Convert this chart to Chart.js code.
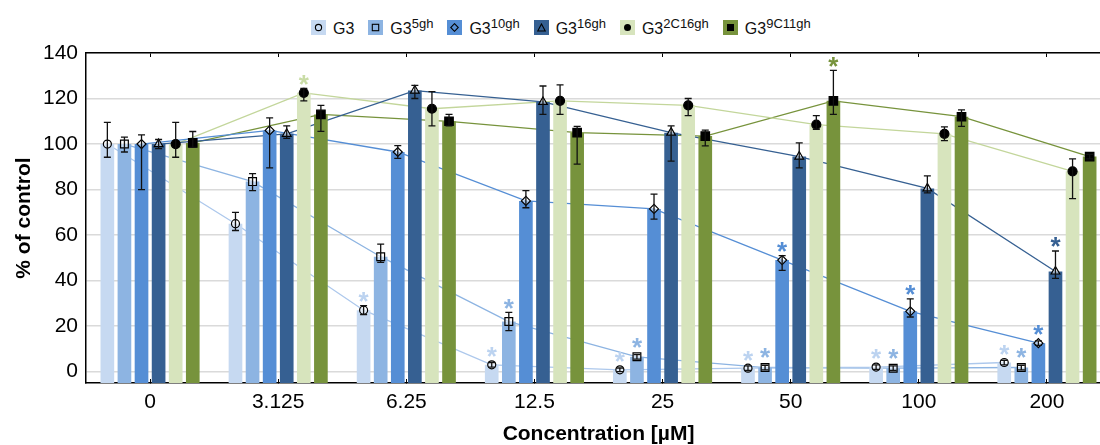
<!DOCTYPE html>
<html lang="en">
<head>
<meta charset="UTF-8">
<title>Viability vs concentration</title>
<script src="https://cdn.jsdelivr.net/npm/chart.js"></script>
<style>
  html, body { margin: 0; padding: 0; background: #fff; overflow: hidden; }
  body { width: 1100px; height: 445px; position: relative; font-family: "Liberation Sans", Arial, sans-serif; }
  canvas { position: absolute; left: 0; top: 0; }
  #legend { position: absolute; top: 20px; left: 311px; display: flex; align-items: center; height: 15px; }
  .item { display: flex; align-items: center; margin-right: 14px; }
  .key { width: 15px; height: 15px; display: flex; align-items: center; justify-content: center; }
  .key svg { display: block; }
  .lbl { margin-left: 7px; font-size: 16px; line-height: 15px; color: #111; position: relative; top: 1px; white-space: nowrap; }
  .lbl sup { font-size: 13px; vertical-align: 6px; line-height: 0; }
</style>
</head>
<body>
<div id="legend"></div>
<canvas id="viability" width="1120" height="445"></canvas>
<script>
const concentrations = ['0', '3.125', '6.25', '12.5', '25', '50', '100', '200'];
const yTicks = [0, 20, 40, 60, 80, 100, 120, 140];
const yMin = -5;

const seriesNames = ['', '5gh', '10gh', '16gh', '2C16gh', '9C11gh']; // superscripts after "G3"

// % of control
const g3     = [100, 65, 27, 3, 0.8, 1.5, 2, 4];
const g3_5   = [100, 83.5, 50.5, 22, 6.5, 1.8, 1.5, 1.8];
const g3_10  = [100, 106, 96.5, 75, 71.5, 49, 26.5, 12.5];
const g3_16  = [100, 104.5, 123.5, 118.5, 105, 94.5, 80.5, 44];
const g3_2c  = [100, 122.5, 115.5, 119, 117, 108.5, 104.5, 88];
const g3_9c  = [100.5, 113, 110, 105, 103.5, 119, 112, 94.5];

// upper / lower error
const g3Hi    = [9.5, 5, 2, 1, 0.8, 1, 1, 1];
const g3Lo    = [5.8, 3, 2, 1, 0.8, 1, 1, 1];
const g3_5Hi  = [3, 3.5, 5.5, 4, 1, 1, 1, 1];
const g3_5Lo  = [3.5, 4, 2.5, 4, 1, 1, 1, 1];
const g3_10Hi = [4, 5.5, 2.8, 4.5, 6.5, 2, 5.5, 1];
const g3_10Lo = [20, 16.5, 2.8, 3, 4.5, 4.5, 2.5, 1];
const g3_16Hi = [2, 3.5, 2.3, 7, 3, 6, 5.5, 9];
const g3_16Lo = [2, 2, 3.5, 5.5, 12.5, 5, 2, 3];
const g3_2cHi = [9.5, 2, 7.5, 7, 3, 4, 3, 5.5];
const g3_2cLo = [5.8, 3.5, 7.5, 6, 4.5, 2, 3, 12];
const g3_9cHi = [5, 4, 3, 2.8, 2.6, 13.4, 3, 1];
const g3_9cLo = [2, 7.4, 2, 13.8, 4.3, 6, 4.2, 1];

// significance marks (1 = asterisk)
const g3Sig    = [0, 0, 1, 1, 1, 1, 1, 1];
const g3_5Sig  = [0, 0, 0, 1, 1, 1, 1, 1];
const g3_10Sig = [0, 0, 0, 0, 0, 1, 1, 1];
const g3_16Sig = [0, 0, 0, 0, 0, 0, 0, 1];
const g3_2cSig = [0, 1, 0, 0, 0, 0, 0, 0];
const g3_9cSig = [0, 0, 0, 0, 0, 1, 0, 0];

const values = [g3, g3_5, g3_10, g3_16, g3_2c, g3_9c];
const errHi  = [g3Hi, g3_5Hi, g3_10Hi, g3_16Hi, g3_2cHi, g3_9cHi];
const errLo  = [g3Lo, g3_5Lo, g3_10Lo, g3_16Lo, g3_2cLo, g3_9cLo];
const sig    = [g3Sig, g3_5Sig, g3_10Sig, g3_16Sig, g3_2cSig, g3_9cSig];

// styling
const barColors  = ['#c6d9f1', '#8db4e2', '#558ed5', '#366092', '#d7e4bd', '#77933c'];
const lineColors = ['#adc8ec', '#8db4e2', '#558ed5', '#366092', '#c3d69b', '#77933c'];
const starColors = ['#bcd3f0', '#8db4e2', '#558ed5', '#366092', '#c9dca6', '#77933c'];
const markers = [
  { style: 'circle',   r: 4,   fill: 'rgba(255,255,255,0.5)' },
  { style: 'rect',     r: 5.5, fill: 'rgba(255,255,255,0.5)' },
  { style: 'rectRot',  r: 4.5, fill: 'rgba(255,255,255,0.5)' },
  { style: 'triangle', r: 5,   fill: 'rgba(255,255,255,0.5)' },
  { style: 'circle',   r: 4.5, fill: '#000' },
  { style: 'rect',     r: 6,   fill: '#000' }
];
const legendShapes = [
  '<circle cx="4.5" cy="4.5" r="3.1" fill="none" stroke="#000" stroke-width="1.1"/>',
  '<rect x="1.3" y="1.3" width="6.4" height="6.4" fill="none" stroke="#000" stroke-width="1.1"/>',
  '<polygon points="4.5,0.7 8.3,4.5 4.5,8.3 0.7,4.5" fill="none" stroke="#000" stroke-width="1.1"/>',
  '<polygon points="4.5,1 8.3,8 0.7,8" fill="none" stroke="#000" stroke-width="1.1"/>',
  '<circle cx="4.5" cy="4.5" r="3.5" fill="#000"/>',
  '<rect x="1" y="1" width="7" height="7" fill="#000"/>'
];

const FONT = '"Liberation Sans", Arial, sans-serif';
const STAR_SIZE = 26;
const groupWidth = 0.8;   // share of a category used by the group of bars
const barFill = 0.8;      // share of a bar slot that is painted
// centre of bar k inside its category, in category units
const slot = k => -groupWidth / 2 + (k + 0.5) * groupWidth / values.length;

// legend
const legend = document.getElementById('legend');
seriesNames.forEach((sup, k) => {
  const item = document.createElement('div');
  item.className = 'item';
  item.innerHTML =
    '<span class="key" style="background:' + barColors[k] + '"><svg width="9" height="9" viewBox="0 0 9 9">' +
    legendShapes[k] + '</svg></span><span class="lbl">G3' + (sup ? '<sup>' + sup + '</sup>' : '') + '</span>';
  legend.appendChild(item);
});

// every mark sits on the hidden linear axis "xl" (category i spans i-0.5 .. i+0.5)
const datasets = [];
values.forEach((vals, k) => {
  const pts = vals.map((v, i) => ({ x: i + slot(k), y: v }));
  datasets.push({
    type: 'bar', label: 'G3' + seriesNames[k], data: pts,
    backgroundColor: barColors[k], borderWidth: 0, base: yMin,
    grouped: false, categoryPercentage: 1, barPercentage: barFill,
    xAxisID: 'xl', yAxisID: 'y', order: 2
  });
  // connecting line, kept behind the bars
  datasets.push({
    type: 'line', data: pts, borderColor: lineColors[k], borderWidth: 1.3,
    pointRadius: 0, tension: 0, fill: false, xAxisID: 'xl', yAxisID: 'y', order: 3
  });
  // markers on top of the bars
  datasets.push({
    type: 'line', data: pts, showLine: false,
    pointStyle: markers[k].style, pointRadius: markers[k].r,
    pointBackgroundColor: markers[k].fill, pointBorderColor: '#000', pointBorderWidth: 1.2,
    xAxisID: 'xl', yAxisID: 'y', order: 1
  });
});

const errorBars = {
  id: 'errorBars',
  afterDatasetsDraw(chart) {
    const { ctx } = chart;
    const xs = chart.scales.xl, ys = chart.scales.y;
    ctx.save();
    values.forEach((vals, k) => {
      vals.forEach((v, i) => {
        const x = xs.getPixelForValue(i + slot(k));
        const top = ys.getPixelForValue(v + errHi[k][i]);
        const bot = ys.getPixelForValue(v - errLo[k][i]);
        ctx.strokeStyle = '#111';
        ctx.lineWidth = 1.3;
        ctx.beginPath();
        ctx.moveTo(x, top); ctx.lineTo(x, bot);
        ctx.moveTo(x - 3.5, top); ctx.lineTo(x + 3.5, top);
        ctx.moveTo(x - 3.5, bot); ctx.lineTo(x + 3.5, bot);
        ctx.stroke();
        if (sig[k][i]) {
          // asterisk centred ~10px above the whisker / marker
          const markTop = Math.min(top, ys.getPixelForValue(v) - markers[k].r);
          ctx.fillStyle = starColors[k];
          ctx.font = 'bold ' + STAR_SIZE + 'px ' + FONT;
          ctx.textAlign = 'center';
          ctx.textBaseline = 'alphabetic';
          ctx.fillText('*', x, markTop - 10 + 0.555 * STAR_SIZE);
        }
      });
    });
    ctx.restore();
  }
};

const catAxis = (position, extra) => Object.assign({
  type: 'category', position, offset: true,
  grid: { drawOnChartArea: false, offset: false, color: '#000', lineWidth: 1, tickLength: -4 },
  border: { display: true, color: '#000', width: 1.5 }
}, extra);

new Chart(document.getElementById('viability'), {
  type: 'bar',
  data: { labels: concentrations, datasets },
  options: {
    responsive: false,
    animation: false,
    devicePixelRatio: 1,
    events: [],
    layout: { padding: { left: 0, right: 9, top: 0, bottom: 0 } },
    plugins: { legend: { display: false }, tooltip: { enabled: false } },
    scales: {
      x: catAxis('bottom', {
        ticks: { font: { size: 21, family: FONT }, color: '#000', padding: 11, maxRotation: 0, autoSkip: false },
        title: { display: true, text: 'Concentration [µM]', color: '#000', padding: 0,
                 font: { size: 21, weight: 'bold', family: FONT, lineHeight: 1 } },
        afterFit: s => { s.height = 62; }
      }),
      xTop: catAxis('top', {
        ticks: { display: false },
        afterFit: s => { s.height = 53; }
      }),
      xl: { type: 'linear', display: false, offset: false, min: -0.5, max: 7.5 },
      y: {
        min: yMin, max: 140,
        afterBuildTicks: s => { s.ticks = yTicks.map(v => ({ value: v })); },
        grid: { color: '#dadada', lineWidth: 1.5, drawTicks: false },
        border: { display: true, color: '#000', width: 1.5 },
        ticks: { font: { size: 21, family: FONT }, color: '#000', padding: 8 },
        title: { display: true, text: '% of control', color: '#000', padding: { top: 11.5, bottom: 0 },
                 font: { size: 21, weight: 'bold', family: FONT } },
        afterFit: s => { s.width = 86; }
      }
    }
  },
  plugins: [errorBars]
});
</script>
</body>
</html>
